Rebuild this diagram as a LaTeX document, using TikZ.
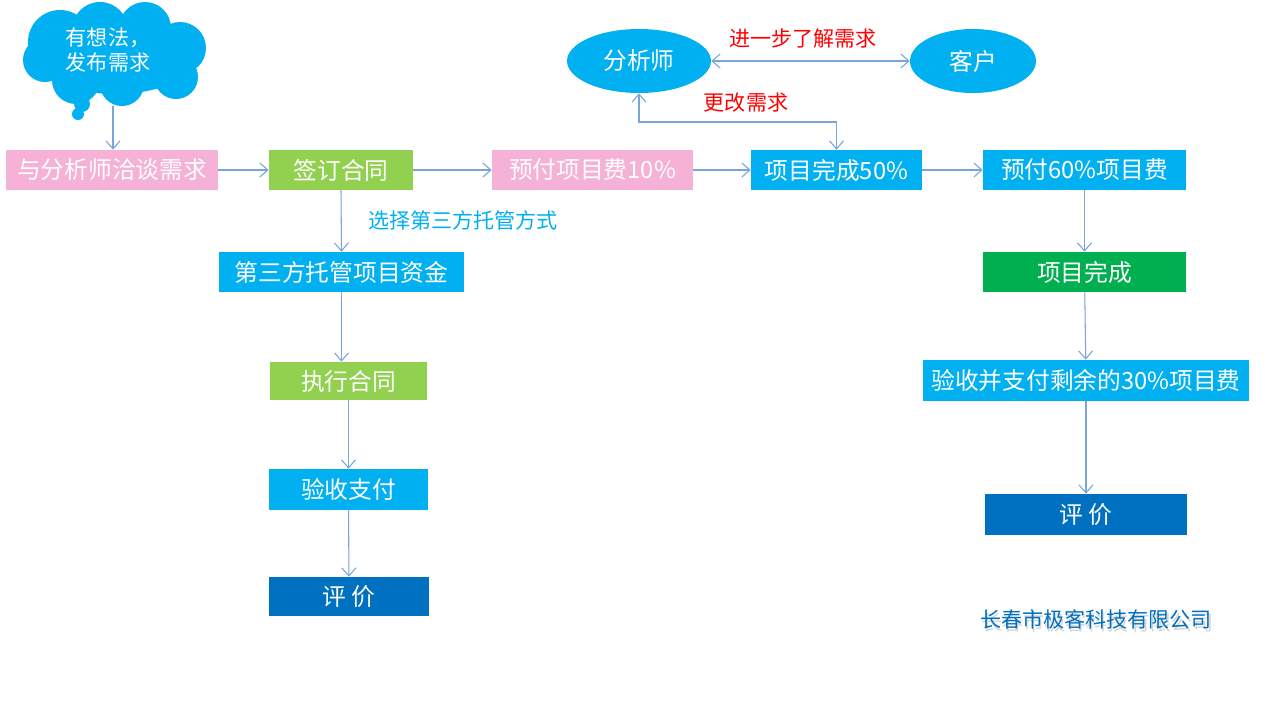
\documentclass[tikz,border=0pt]{standalone}
\usepackage{fontspec}
\usetikzlibrary{arrows.meta,shapes.geometric}
\newfontfamily\cjk{Noto Sans CJK SC}
\definecolor{pinkbox}{RGB}{245,178,214}
\definecolor{greenbox}{RGB}{146,208,80}
\definecolor{bluebox}{RGB}{0,176,240}
\definecolor{darkgreen}{RGB}{0,176,80}
\definecolor{darkblue}{RGB}{0,112,192}
\definecolor{linkblue}{RGB}{120,165,218}
\begin{document}
\begin{tikzpicture}[x=0.02cm,y=-0.02cm,
  box/.style={rectangle,inner sep=0pt,minimum height=0.8cm,text=white,
    font=\cjk\fontsize{13.5}{16}\selectfont},
  oval/.style={ellipse,inner sep=0pt,fill=bluebox,text=white,
    font=\cjk\fontsize{13.5}{16}\selectfont},
  link/.style={draw=linkblue,line width=0.6pt,
    -{Straight Barb[length=1.6mm,width=2.8mm]}},
  twoway/.style={link,{Straight Barb[length=1.6mm,width=2.8mm]}-{Straight Barb[length=1.6mm,width=2.8mm]}},
  note/.style={font=\cjk\fontsize{12}{14}\selectfont,inner sep=0pt}
]
\useasboundingbox (0,0) rectangle (1276,717);
\fill[white] (0,0) rectangle (1276,717);

% thought cloud built from overlapping puffs
\begin{scope}[fill=bluebox]
  \fill (115,58) ellipse [x radius=80, y radius=36];
  \fill (60,42) circle [radius=32];
  \fill (100,30) circle [radius=28];
  \fill (145,28) circle [radius=26];
  \fill (180,48) circle [radius=26];
  \fill (176,77) circle [radius=22];
  \fill (122,84) circle [radius=22];
  \fill (76,80) circle [radius=24];
  \fill (45,60) circle [radius=22];
  \fill (82,104) circle [radius=8];
  \fill (78,114) circle [radius=6];
\end{scope}
\node[font=\cjk\fontsize{12}{14}\selectfont,text=white,align=left,inner sep=0pt]
  (idea) at (108,50) {有想法，\\发布需求};
\coordinate (cloudtip) at (113,106);

% main row
\node[box,fill=pinkbox,minimum width=4.24cm] (talk) at (112,170) {与分析师洽谈需求};
\node[box,fill=greenbox,minimum width=2.88cm] (sign) at (341,170) {签订合同};
\node[box,fill=pinkbox,minimum width=4.02cm] (pre10) at (592.5,170) {预付项目费10\%};
\node[box,fill=bluebox,minimum width=3.42cm] (half) at (836.5,170) {项目完成50\%};
\node[box,fill=bluebox,minimum width=4.06cm] (pre60) at (1084.5,170) {预付60\%项目费};

% analyst and client
\node[oval,minimum width=2.88cm,minimum height=1.28cm] (analyst) at (639,61) {分析师};
\node[oval,minimum width=2.52cm,minimum height=1.28cm] (client) at (973,61) {客户};
\coordinate (bend) at (836.5,122);

% escrow branch
\node[box,fill=bluebox,minimum width=4.9cm] (escrow) at (341.5,272) {第三方托管项目资金};
\node[box,fill=greenbox,minimum width=3.14cm,minimum height=0.76cm] (exec) at (348.5,381) {执行合同};
\node[box,fill=bluebox,minimum width=3.18cm,minimum height=0.82cm] (acceptL) at (348.5,489.5) {验收支付};
\node[box,fill=darkblue,minimum width=3.2cm,minimum height=0.78cm] (rateL) at (349,596.5) {评\ 价};

% direct branch
\node[box,fill=darkgreen,minimum width=4.06cm] (done) at (1084.5,272) {项目完成};
\node[box,fill=bluebox,minimum width=6.52cm,minimum height=0.82cm] (acceptR) at (1086,380.5) {验收并支付剩余的30\%项目费};
\node[box,fill=darkblue,minimum width=4.04cm,minimum height=0.82cm] (rateR) at (1086,514.5) {评\ 价};

% labels
\node[note,text=red] (learn) at (803,39) {进一步了解需求};
\node[note,text=red] (change) at (746,103) {更改需求};
\node[note,text=bluebox] (choose) at (463,220) {选择第三方托管方式};
\node[note,text=darkblue] (company) at (1096,621)
  {\makebox[0pt][l]{\hspace{0.8pt}\raisebox{-1.6pt}{\color{black!16}长春市极客科技有限公司}}长春市极客科技有限公司};

% connectors
\draw[link] (cloudtip) -- (cloudtip |- talk.north);
\draw[link] (talk) -- (sign);
\draw[link] (sign) -- (pre10);
\draw[link] (pre10) -- (half);
\draw[link] (half) -- (pre60);
\draw[twoway] (analyst) -- (client);
\draw[twoway] (analyst.south) |- (bend) -- (half.north);
\draw[link] (sign.south) -- (escrow.north);
\draw[link] (escrow.south) -- (escrow.south |- exec.north);
\draw[link] (exec) -- (acceptL);
\draw[link] (acceptL) -- (rateL);
\draw[link] (pre60) -- (done);
\draw[link] (done) -- (acceptR);
\draw[link] (acceptR) -- (rateR);
\end{tikzpicture}
\end{document}
